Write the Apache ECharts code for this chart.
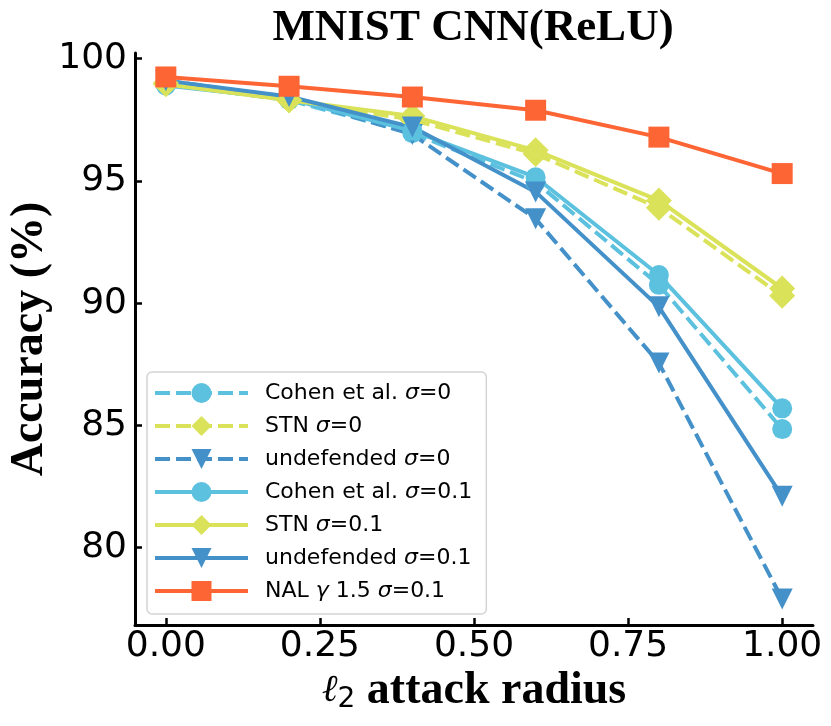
<!DOCTYPE html>
<html>
<head>
<meta charset="utf-8">
<script src="https://cdn.jsdelivr.net/npm/echarts@6/dist/echarts.min.js"></script>
<style>
html,body{margin:0;padding:0;background:#fff;}
#chart{width:831px;height:726px;}
</style>
</head>
<body>
<div id="chart"></div>
<script>
// attack radius
var radius = [0, 0.2, 0.4, 0.6, 0.8, 1.0];
// accuracy (%)
var cohen0 = [98.95, 98.3, 96.95, 94.95, 90.75, 84.85];
var stn0 = [99.0, 98.3, 97.5, 96.1, 93.9, 90.3];
var undef0 = [99.1, 98.4, 96.9, 93.45, 87.55, 77.9];
var cohen01 = [98.9, 98.35, 97.05, 95.15, 91.15, 85.7];
var stn01 = [98.95, 98.3, 97.65, 96.25, 94.2, 90.6];
var undef01 = [99.1, 98.45, 97.2, 94.55, 89.85, 82.1];
var nal = [99.25, 98.87, 98.43, 97.89, 96.79, 95.3];
var xTicks = [0, 0.25, 0.5, 0.75, 1.0];
var yTicks = [80, 85, 90, 95, 100];

var cCohen = '#5bc1df', cStn = '#dae259', cUndef = '#4491ca', cNal = '#fe6535';
var triDown = 'path://M0,0 L2,0 L1,2 Z';

function pts(vals){
	return radius.map(function(x, i){ return [x, vals[i]]; });
}
function mk(name, vals, color, symbol, size, dashed){
	return {
		name: name,
		type: 'line',
		data: pts(vals),
		symbol: symbol,
		symbolSize: size,
		showAllSymbol: true,
		lineStyle: {color: color, width: 4, type: dashed ? [15, 6] : 'solid'},
		itemStyle: {color: color},
		emphasis: {disabled: true}
	};
}

var chart = echarts.init(document.getElementById('chart'));
var option = {
	animation: false,
	title: {
		text: 'MNIST CNN(ReLU)',
		left: 468,
		textAlign: 'center',
		top: 1,
		textStyle: {fontFamily: 'Liberation Serif', fontWeight: 'bold', fontSize: 45, color: '#000'}
	},
	grid: {left: 135, right: 18, top: 53, bottom: 101, outerBoundsMode: 'none', containLabel: false},
	legend: {
		orient: 'vertical',
		left: 147,
		top: 372,
		itemWidth: 93,
		itemHeight: 25,
		itemGap: 11,
		padding: [10, 14, 12, 6],
		backgroundColor: 'rgba(255,255,255,0.85)',
		borderColor: '#d4d4d4',
		borderWidth: 1.5,
		borderRadius: 5,
		lineStyle: {width: 4},
		formatter: function(n){ return n.replace(/([σγ])/g, '{i|$1}'); },
		textStyle: {
			fontFamily: 'DejaVu Sans', fontSize: 22, color: '#000', padding: [0, 0, 0, 12],
			rich: {i: {fontFamily: 'DejaVu Sans', fontStyle: 'italic', fontSize: 22, color: '#000'}}
		}
	},
	xAxis: {
		type: 'value',
		min: -0.05,
		max: 1.05,
		name: '{l|ℓ}{s|2} attack radius',
		nameLocation: 'middle',
		nameGap: 43,
		nameMoveOverlap: false,
		nameTextStyle: {
			fontFamily: 'Liberation Serif', fontWeight: 'bold', fontSize: 46, color: '#000',
			rich: {
				l: {fontFamily: 'DejaVu Serif', fontStyle: 'italic', fontWeight: 'normal', fontSize: 38, color: '#000'},
				s: {fontFamily: 'DejaVu Sans', fontWeight: 'normal', fontSize: 28, color: '#000', verticalAlign: 'bottom', padding: [16, 0, 0, 0]}
			}
		},
		axisLine: {onZero: false, lineStyle: {color: '#000', width: 3}},
		axisTick: {inside: true, length: 7, lineStyle: {width: 2.5, color: '#000'}, customValues: xTicks},
		axisLabel: {
			fontFamily: 'DejaVu Sans', fontSize: 36, color: '#000', margin: 4,
			customValues: xTicks,
			formatter: function(v){ return v.toFixed(2); }
		},
		splitLine: {show: false}
	},
	yAxis: {
		type: 'value',
		min: 76.84,
		max: 100.23,
		name: 'Accuracy (%)',
		nameLocation: 'middle',
		nameRotate: 90,
		nameGap: 82,
		nameMoveOverlap: false,
		nameTextStyle: {fontFamily: 'Liberation Serif', fontWeight: 'bold', fontSize: 46, color: '#000'},
		axisLine: {onZero: false, lineStyle: {color: '#000', width: 3}},
		axisTick: {inside: true, length: 7, lineStyle: {width: 2.5, color: '#000'}, customValues: yTicks},
		axisLabel: {fontFamily: 'DejaVu Sans', fontSize: 36, color: '#000', margin: 8, customValues: yTicks},
		splitLine: {show: false}
	},
	series: [
		mk('Cohen et al. σ=0', cohen0, cCohen, 'circle', 20, true),
		mk('STN σ=0', stn0, cStn, 'diamond', 26, true),
		mk('undefended σ=0', undef0, cUndef, triDown, 21, true),
		mk('Cohen et al. σ=0.1', cohen01, cCohen, 'circle', 20, false),
		mk('STN σ=0.1', stn01, cStn, 'diamond', 26, false),
		mk('undefended σ=0.1', undef01, cUndef, triDown, 21, false),
		mk('NAL γ 1.5 σ=0.1', nal, cNal, 'rect', 21, false)
	]
};
chart.setOption(option);
</script>
</body>
</html>
